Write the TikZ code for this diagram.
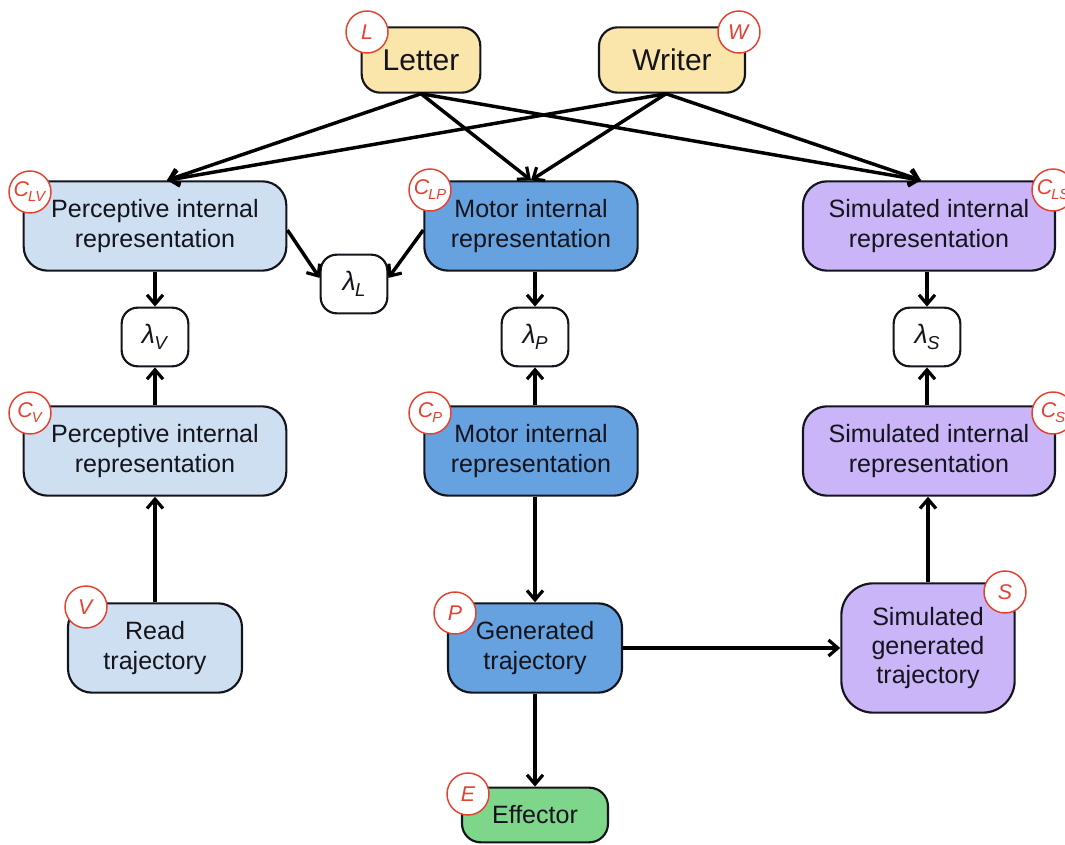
\documentclass[tikz,border=0pt]{standalone}
\usepackage{fontspec}
\setmainfont{Liberation Sans}
\usetikzlibrary{arrows.meta,calc}
\definecolor{yel}{HTML}{FAE5AA}
\definecolor{lblue}{HTML}{CEDFF2}
\definecolor{mblue}{HTML}{66A1E0}
\definecolor{purp}{HTML}{C9B5F7}
\definecolor{grn}{HTML}{7DD68A}
\definecolor{redc}{HTML}{E5412F}
\definecolor{ink}{HTML}{14141C}
\newcommand{\lam}[1]{\textit{λ}\kern-0.5pt\raisebox{-0.4ex}{\fontsize{14}{14}\selectfont\textit{#1}}}
\newcommand{\lab}[2]{\textit{#1}\kern-0.8pt\raisebox{-0.45ex}{\fontsize{11}{11}\selectfont\textit{#2}}}
\begin{document}
\begin{tikzpicture}[x=0.75pt,y=-0.75pt,
  box/.style={draw=ink, line width=1.6pt, rounded corners=18pt, align=center, inner sep=0pt, text=ink,
    font=\fontsize{18.8}{22}\selectfont},
  wide/.style={box, minimum width=197pt, minimum height=67pt},
  mid/.style={box, minimum width=160pt, minimum height=67pt},
  sim/.style={box, minimum width=189pt, minimum height=67pt},
  traj/.style={box, minimum width=130.5pt, minimum height=67pt},
  topbox/.style={box, fill=yel, minimum height=49pt, rounded corners=14pt, font=\fontsize{22.5}{27}\selectfont},
  lbox/.style={box, fill=white, minimum width=50pt, minimum height=44pt, rounded corners=12pt,
    font=\fontsize{20}{22}\selectfont},
  tag/.style={circle, draw=redc, fill=white, line width=1.1pt, minimum size=31.5pt, inner sep=0pt,
    text=redc, font=\fontsize{16}{16}\selectfont},
  arr/.style={-{Straight Barb[length=7pt,width=12pt,line width=2.4pt]}, line width=2.6pt, draw=black},
]
\useasboundingbox (0,0) rectangle (1065,845);

% top
\node[topbox, minimum width=89pt] (Letter) at (421,60) {Letter};
\node[topbox, minimum width=109.5pt] (Writer) at (672,60) {Writer};

% level 1
\node[wide, fill=lblue] (CLV) at (155,226) {Perceptive internal\\representation};
\node[mid, fill=mblue] (CLP) at (531,226) {Motor internal\\representation};
\node[sim, fill=purp] (CLS) at (929,226) {Simulated internal\\representation};

% lambdas
\node[lbox] (lamL) at (354,284) {\lam{L}};
\node[lbox] (lamV) at (155,337) {\lam{V}};
\node[lbox] (lamP) at (535,337) {\lam{P}};
\node[lbox] (lamS) at (927,337) {\lam{S}};

% level 2
\node[wide, fill=lblue] (CV) at (155,451) {Perceptive internal\\representation};
\node[mid, fill=mblue] (CP) at (531,451) {Motor internal\\representation};
\node[sim, fill=purp] (CS) at (929,451) {Simulated internal\\representation};

% trajectories
\node[traj, fill=lblue] (Read) at (155,648) {Read\\trajectory};
\node[traj, fill=mblue] (Gen) at (535,648) {Generated\\trajectory};
\node[box, fill=purp, minimum width=130pt, minimum height=97pt, rounded corners=24pt] (SimGen) at (928,648) {Simulated\\generated\\trajectory};
\node[box, fill=grn, minimum width=109.5pt, minimum height=41pt, rounded corners=14pt] (Eff) at (535,815) {Effector};

% connectors
\coordinate (tLV) at ($(CLV.north)+(12,0)$);
\coordinate (tLP) at ($(CLP.north)+(0,0)$);
\coordinate (tLS) at ($(CLS.north)+(-8,0)$);
\coordinate (sW) at ($(Writer.south)+(-6,0)$);
\draw[arr] (Letter.south) -- (tLV);
\draw[arr] (Letter.south) -- (tLP);
\draw[arr] (Letter.south) -- (tLS);
\draw[arr] (sW) -- (tLV);
\draw[arr] (sW) -- (tLP);
\draw[arr] (sW) -- (tLS);

\draw[arr] ($(CLV.east)+(0,4)$) -- (lamL.170);
\draw[arr] ($(CLP.west)+(0,4)$) -- (lamL.10);

\draw[arr] (CLV.south) -- (lamV.north);
\draw[arr] (CV.north) -- (lamV.south);
\draw[arr] (CLP.south -| lamP.north) -- (lamP.north);
\draw[arr] (CP.north -| lamP.south) -- (lamP.south);
\draw[arr] (CLS.south -| lamS.north) -- (lamS.north);
\draw[arr] (CS.north -| lamS.south) -- (lamS.south);

\draw[arr] (Read.north) -- (CV.south);
\draw[arr] (CP.south -| Gen.north) -- (Gen.north);
\draw[arr] (Gen.east) -- (SimGen.west);
\draw[arr] (SimGen.north) -- (SimGen.north |- CS.south);
\draw[arr] (Gen.south) -- (Eff.north);

% tags
\node[tag] (tL) at (367,32) {\textit{L}};
\node[tag] (tW) at (739,32) {\textit{W}};
\node[tag] (tCLV) at (30,192) {\lab{C}{LV}};
\node[tag] (tCLP) at (430,190) {\lab{C}{LP}};
\node[tag] (tCLS) at (1053,190) {\lab{C}{LS}};
\node[tag] (tCV) at (30,413) {\lab{C}{V}};
\node[tag] (tCP) at (430,413) {\lab{C}{P}};
\node[tag] (tCS) at (1053,413) {\lab{C}{S}};
\node[tag] (tV) at (86,607) {\textit{V}};
\node[tag] (tP) at (455,613) {\textit{P}};
\node[tag] (tE) at (468,794) {\textit{E}};
\node[tag] (tS) at (1005,592) {\textit{S}};
\end{tikzpicture}
\end{document}
